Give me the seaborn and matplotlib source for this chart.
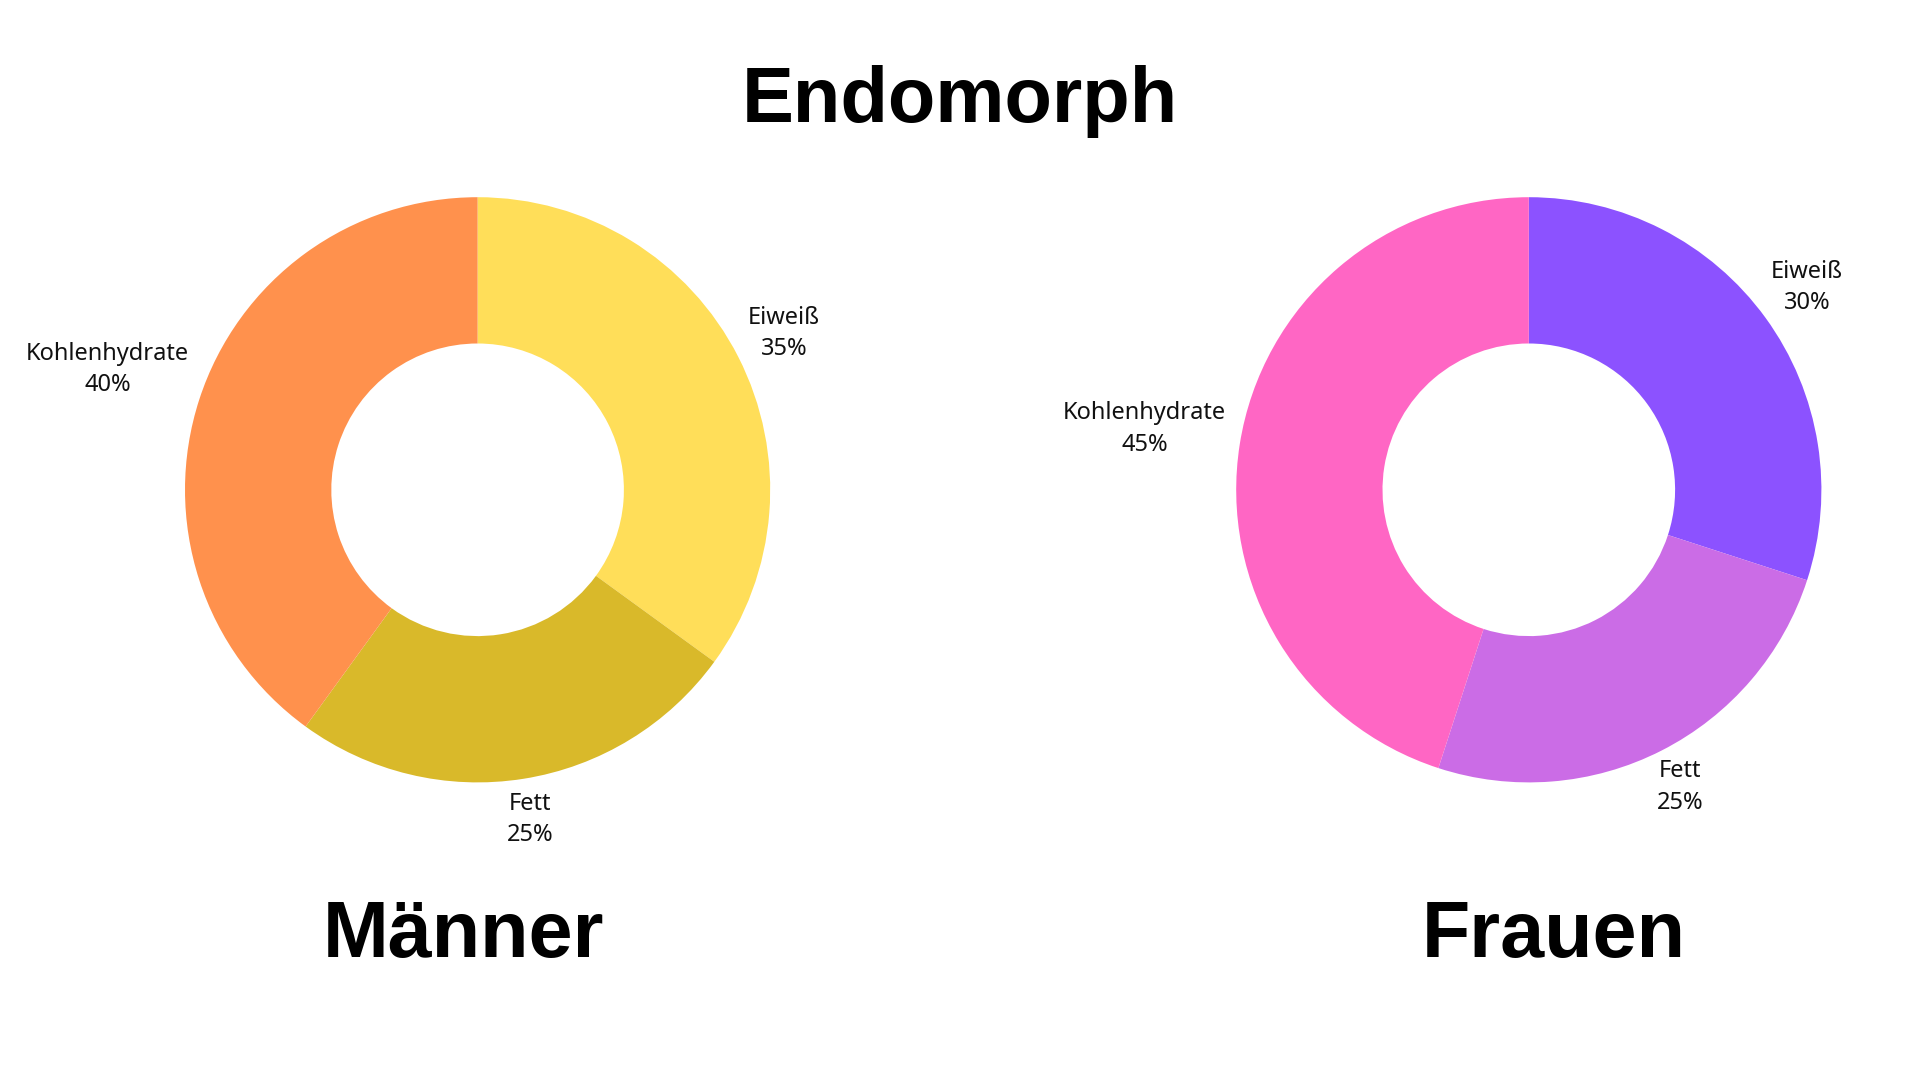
import numpy as np
import matplotlib
matplotlib.use("Agg")
import matplotlib.pyplot as plt
import seaborn as sns

# macro split per group, order: Eiweiß, Fett, Kohlenhydrate
macros = ["Eiweiß", "Fett", "Kohlenhydrate"]
maenner_values = [35, 25, 40]
frauen_values = [30, 25, 45]

maenner_colors = ["#FFDE59", "#D9B92A", "#FF914D"]
frauen_colors = ["#8C52FF", "#CB6CE6", "#FF66C4"]

# how far out the labels sit (in radii)
label_dist = [1.175, 1.14, 1.33]

title = "Endomorph"
group_names = ["Männer", "Frauen"]

sns.set_theme(style="white")
plt.rcParams["font.family"] = ["Noto Sans", "DejaVu Sans"]

W, H = 1920, 1080
fig = plt.figure(figsize=(W / 100, H / 100), dpi=100)
fig.patch.set_facecolor("white")

radius_px = 292.6
lim = 1.5
size_px = 2 * lim * radius_px
centers = [(477.6, 489.8), (1528.8, 489.8)]


def draw_donut(ax, values, colors):
    wedges, _ = ax.pie(
        values,
        colors=colors,
        startangle=90,
        counterclock=False,
        radius=1.0,
        wedgeprops=dict(width=0.5, edgecolor="none", linewidth=0),
    )
    for w, name, val, d in zip(wedges, macros, values, label_dist):
        ang = np.deg2rad((w.theta1 + w.theta2) / 2)
        ax.text(
            d * np.cos(ang),
            d * np.sin(ang),
            f"{name}\n{val}%",
            ha="center",
            va="center",
            fontsize=17,
            color="#111111",
            linespacing=1.4,
            clip_on=False,
        )
    ax.set_xlim(-lim, lim)
    ax.set_ylim(-lim, lim)
    ax.set_aspect("equal")
    ax.axis("off")


for (cx, cy), vals, cols in zip(centers, [maenner_values, frauen_values],
                                [maenner_colors, frauen_colors]):
    left = (cx - size_px / 2) / W
    bottom = (H - cy - size_px / 2) / H
    ax = fig.add_axes([left, bottom, size_px / W, size_px / H])
    draw_donut(ax, vals, cols)

bold = ["Liberation Sans", "DejaVu Sans"]
fig.text(960 / W, 1 - 101 / H, title, ha="center", va="center",
         fontsize=56, fontweight="bold", family=bold, color="black")
fig.text(463 / W, 1 - 936 / H, group_names[0], ha="center", va="center",
         fontsize=57, fontweight="bold", family=bold, color="black")
fig.text(1554 / W, 1 - 936 / H, group_names[1], ha="center", va="center",
         fontsize=57, fontweight="bold", family=bold, color="black")

fig.savefig("out.png", dpi=100, facecolor="white")
